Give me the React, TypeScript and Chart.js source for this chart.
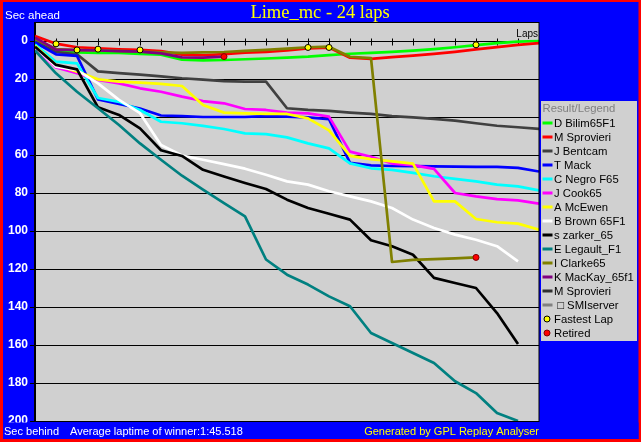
import React, { useEffect, useRef } from 'react';
import { Chart, registerables } from 'chart.js';

Chart.register(...registerables);

const laps = [0, 1, 2, 3, 4, 5, 6, 7, 8, 9, 10, 11, 12, 13, 14, 15, 16, 17, 18, 19, 20, 21, 22, 23, 24];
const yTicks = [0, 20, 40, 60, 80, 100, 120, 140, 160, 180, 200];

const drivers = [
  'D Bilim65F1', 'M Sprovieri', 'J Bentcam', 'T Mack', 'C Negro F65', 'J Cook65', 'A McEwen',
  'B Brown 65F1', 's zarker_65', 'E Legault_F1', 'I Clarke65', 'K MacKay_65f1', 'M Sprovieri', ' \u25A1 SMIserver',
];

const bilim = [-0.3, 5.5, 6.0, 6.2, 6.3, 6.8, 7.2, 9.8, 10.2, 10.0, 9.6, 9.2, 8.7, 8.2, 7.4, 6.7, 6.3, 5.7, 5.1, 4.3, 3.3, 2.2, 1.1, 0.3, 0];
const sprovieri = [-2.6, 1.4, 3.3, 3.9, 4.4, 4.7, 5.3, 7.2, 7.5, 6.9, 6.1, 5.8, 5.0, 3.9, 3.5, 8.8, 9.4, 8.5, 7.7, 6.8, 5.7, 4.4, 3.2, 2.0, 1.1];
const bentcam = [0.3, 5.8, 7.0, 16.0, 16.9, 17.7, 18.6, 19.6, 20.3, 21.1, 21.4, 21.4, 35.4, 36.3, 36.8, 37.7, 38.4, 39.5, 40.2, 41.0, 41.9, 43.3, 44.6, 45.4, 46.3];
const mack = [0.8, 7.0, 7.8, 30.8, 33.1, 35.5, 39.2, 39.5, 40.0, 40.0, 40.0, 39.5, 39.8, 40.2, 41.2, 64.1, 65.5, 65.8, 65.9, 66.0, 66.1, 66.2, 66.3, 66.8, 68.7];
const negro = [1.8, 10.9, 11.8, 30.0, 32.0, 36.3, 42.5, 43.3, 44.7, 46.3, 48.6, 49.0, 50.7, 53.9, 56.5, 64.4, 67.0, 67.8, 69.4, 71.2, 72.6, 73.9, 75.6, 76.5, 78.6];
const cook = [4.0, 13.9, 17.0, 20.5, 22.3, 24.9, 26.7, 29.3, 31.6, 32.8, 35.8, 36.3, 37.7, 38.1, 39.8, 58.2, 60.9, 64.5, 65.3, 67.3, 80.0, 81.8, 83.2, 83.9, 85.6];
const mcewen = [2.5, 12.6, 16.1, 20.2, 21.4, 21.9, 22.6, 23.7, 33.7, 37.7, 38.1, 38.4, 38.4, 40.7, 47.0, 60.5, 62.2, 63.4, 64.5, 84.4, 84.4, 93.7, 95.4, 96.1, 99.3];
const brown = [3.3, 13.5, 15.3, 22.3, 31.0, 38.0, 54.7, 60.3, 62.5, 64.8, 67.2, 70.4, 73.9, 75.6, 79.1, 81.8, 84.4, 87.9, 94.0, 98.4, 101.9, 104.6, 108.0, 116.0];
const zarker = [3.0, 12.6, 14.9, 34.9, 38.9, 46.0, 57.5, 60.5, 67.8, 71.3, 74.7, 77.9, 83.5, 87.9, 90.9, 94.0, 104.9, 108.0, 112.5, 124.7, 127.4, 130.0, 143.2, 159.5];
const legault = [5.0, 17.0, 26.7, 35.4, 44.2, 53.9, 62.5, 70.9, 78.2, 85.3, 92.3, 115.0, 123.0, 128.2, 134.4, 139.6, 153.7, 158.9, 164.2, 169.5, 179.1, 185.3, 195.8, 200.0];
const clarke = [-1.2, 4.2, 4.8, 4.8, 5.2, 5.6, 6.0, 6.3, 6.0, 5.8, 5.2, 4.7, 4.0, 3.3, 3.0, 8.3, 9.0, 116.3, 115.2, 114.8, 114.4, 113.9];
const mackay = [-1.8, 4.5, 4.8, 5.0, 5.3, 5.6, 6.5, 8.6, 8.8, 8.2];
const sprovieri2: number[] = [];
const smiserver: number[] = [];

const fastestLapLaps = [1, 2, 3, 5, 13, 14, 21];
const fastestLapValues = [1.5, 4.7, 4.3, 4.7, 3.4, 3.4, 2.0];
const retiredLaps = [9, 21];
const retiredValues = [8.2, 113.9];

const seriesValues = [bilim, sprovieri, bentcam, mack, negro, cook, mcewen, brown, zarker, legault, clarke, mackay, sprovieri2, smiserver];
const seriesColors = ['#00FF00', '#FF0000', '#404040', '#0000FF', '#00FFFF', '#FF00FF', '#FFFF00', '#FFFFFF', '#000000', '#008080', '#808000', '#800080', '#303030', '#808080'];

const BLUE = '#0000FF';
const GRAY = '#D0D0D0';
const SANS = '"Liberation Sans", Arial, sans-serif';

const framePlugin = {
  id: 'frame',
  beforeDraw(chart: any) {
    const { ctx, width, height, chartArea } = chart;
    ctx.save();
    ctx.fillStyle = '#FF0000';
    ctx.fillRect(0, 0, width, height);
    ctx.fillStyle = BLUE;
    ctx.fillRect(3, 2, width - 5.5, height - 5);
    ctx.fillStyle = GRAY;
    ctx.fillRect(chartArea.left, chartArea.top, chartArea.right - chartArea.left, chartArea.bottom - chartArea.top);
    ctx.restore();
  },
  beforeDatasetsDraw(chart: any) {
    const { ctx } = chart;
    const xs = chart.scales.x;
    const ys = chart.scales.y;
    const y0 = Math.round(ys.getPixelForValue(0)) + 0.5;
    ctx.save();
    ctx.strokeStyle = '#000';
    ctx.lineWidth = 1;
    ctx.beginPath();
    for (let i = 1; i < laps.length - 1; i++) {
      const x = Math.round(xs.getPixelForValue(laps[i])) + 0.5;
      ctx.moveTo(x, y0 - 3);
      ctx.lineTo(x, y0 + 4);
    }
    ctx.stroke();
    ctx.fillStyle = '#000';
    ctx.font = '10px ' + SANS;
    ctx.textAlign = 'right';
    ctx.textBaseline = 'alphabetic';
    ctx.fillText('Laps', chart.chartArea.right - 1, 36.5);
    ctx.restore();
  },
  afterDraw(chart: any) {
    const { ctx, width, chartArea, data } = chart;
    ctx.save();
    ctx.strokeStyle = '#000';
    ctx.lineWidth = 1;
    ctx.strokeRect(chartArea.left - 0.5, chartArea.top + 0.5, chartArea.right - chartArea.left + 0.5, chartArea.bottom - chartArea.top);
    ctx.fillStyle = BLUE;
    ctx.fillRect(3, chartArea.bottom + 1.5, width - 5.5, 439 - chartArea.bottom - 1.5);
    ctx.fillStyle = '#FFFF00';
    ctx.font = '18.5px "Liberation Serif", "Times New Roman", serif';
    ctx.textAlign = 'center';
    ctx.textBaseline = 'alphabetic';
    ctx.fillText('Lime_mc - 24 laps', 320, 17.5);
    ctx.font = '11.5px ' + SANS;
    ctx.textAlign = 'left';
    ctx.textBaseline = 'middle';
    ctx.fillStyle = '#FFFFFF';
    ctx.fillText('Sec ahead', 5, 15.5);
    ctx.font = '11px ' + SANS;
    ctx.fillText('Sec behind', 4, 431.5);
    ctx.fillText('Average laptime of winner:1:45.518', 70, 431.5);
    ctx.fillStyle = '#FFFF00';
    ctx.textAlign = 'right';
    ctx.fillText('Generated by GPL Replay Analyser', chartArea.right, 431.5);
    const lx = 541;
    const ly = 101;
    ctx.fillStyle = GRAY;
    ctx.fillRect(lx, ly, 96, 240);
    ctx.textAlign = 'left';
    ctx.font = '11.3px ' + SANS;
    ctx.fillStyle = '#808080';
    ctx.fillText('Result/Legend', lx + 1.5, ly + 7.5);
    data.datasets.forEach((ds: any, i: number) => {
      const cy = ly + 22 + i * 14;
      if (ds.showLine === false) {
        ctx.beginPath();
        ctx.arc(lx + 6, cy, 3, 0, Math.PI * 2);
        ctx.fillStyle = ds.pointBackgroundColor;
        ctx.fill();
        ctx.lineWidth = 1;
        ctx.strokeStyle = ds.pointBorderColor;
        ctx.stroke();
      } else {
        ctx.strokeStyle = ds.borderColor;
        ctx.lineWidth = 3;
        ctx.beginPath();
        ctx.moveTo(lx + 1.5, cy);
        ctx.lineTo(lx + 11.5, cy);
        ctx.stroke();
      }
      ctx.fillStyle = '#000';
      ctx.fillText(ds.label, lx + 13, cy + 0.5);
    });
    ctx.restore();
  },
};

export default function App() {
  const ref = useRef<HTMLCanvasElement | null>(null);
  useEffect(() => {
    document.body.style.margin = '0';
    const canvas = ref.current;
    if (!canvas) return;
    const n = seriesValues.length;
    const lineSets = seriesValues.map((vals, i) => ({
      label: drivers[i],
      data: vals.map((v, k) => ({ x: laps[k], y: v })),
      borderColor: seriesColors[i],
      backgroundColor: seriesColors[i],
      borderWidth: 2.7,
      borderJoinStyle: 'round' as const,
      pointRadius: 0,
      tension: 0,
      order: n - i + 2,
    }));
    const chart = new Chart(canvas, {
      type: 'line',
      data: {
        datasets: [
          ...lineSets,
          {
            label: 'Fastest Lap',
            data: fastestLapLaps.map((l, k) => ({ x: l, y: fastestLapValues[k] })),
            showLine: false,
            pointRadius: 3,
            pointBackgroundColor: '#FFFF00',
            pointBorderColor: '#000000',
            pointBorderWidth: 1,
            borderColor: '#000',
            order: 1,
          },
          {
            label: 'Retired',
            data: retiredLaps.map((l, k) => ({ x: l, y: retiredValues[k] })),
            showLine: false,
            pointRadius: 3,
            pointBackgroundColor: '#FF0000',
            pointBorderColor: '#800000',
            pointBorderWidth: 1,
            borderColor: '#000',
            order: 0,
          },
        ] as any,
      },
      options: {
        animation: false,
        responsive: false,
        maintainAspectRatio: false,
        devicePixelRatio: 1,
        layout: { padding: { left: 0, top: 22, right: 102, bottom: 21 } },
        plugins: { legend: { display: false }, tooltip: { enabled: false }, title: { display: false } },
        scales: {
          x: {
            type: 'linear',
            min: 0,
            max: 24,
            display: false,
          },
          y: {
            type: 'linear',
            reverse: true,
            min: -10,
            max: 200,
            afterFit: (axis: any) => { axis.width = 35; },
            afterBuildTicks: (axis: any) => { axis.ticks = yTicks.map((v) => ({ value: v })); },
            grid: { color: '#000000', lineWidth: 1, tickLength: 5, drawTicks: true },
            border: { display: true, color: '#000000' },
            ticks: {
              color: '#FFFFFF',
              padding: 2,
              font: { family: SANS, size: 12, weight: 'bold' },
            },
          },
        },
      },
      plugins: [framePlugin],
    } as any);
    return () => chart.destroy();
  }, []);
  return (
    <div style={{ position: 'fixed', left: 0, top: 0, width: 641, height: 442 }}>
      <canvas ref={ref} width={641} height={442} style={{ display: 'block', width: 641, height: 442 }} />
    </div>
  );
}
